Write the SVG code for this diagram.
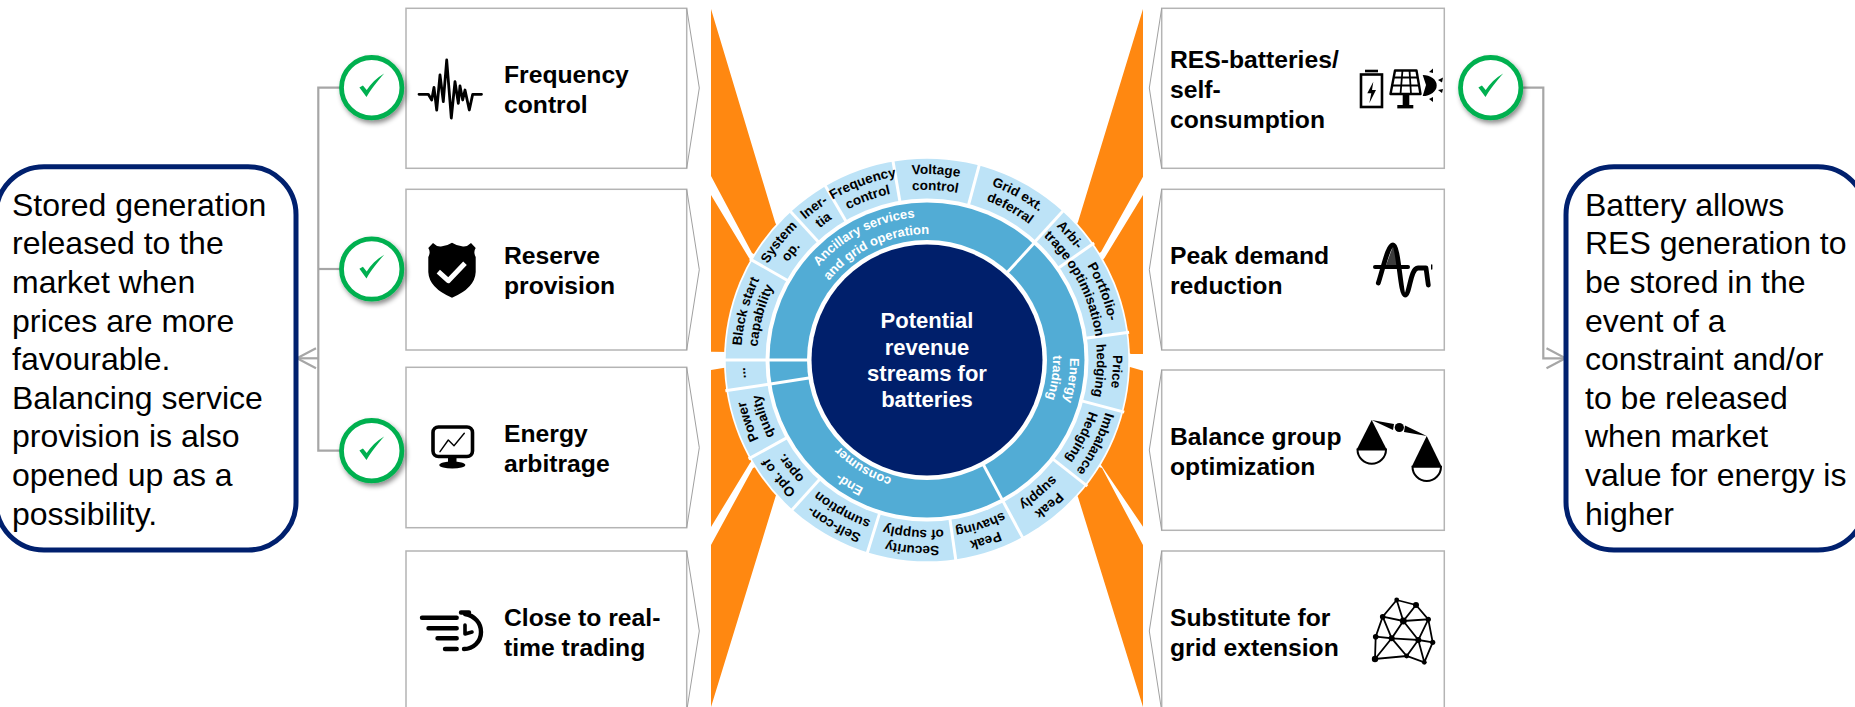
<svg xmlns="http://www.w3.org/2000/svg" width="1855" height="707" viewBox="0 0 1855 707">
<style>
text{font-family:"Liberation Sans",Arial,sans-serif}
.box{fill:#fff;stroke:#b4b4b4;stroke-width:1.5}
.chev{fill:none;stroke:#a0a0a0;stroke-width:1}
.lbl{font-size:24.7px;font-weight:700;fill:#000}
.call{fill:#fff;stroke:#00206e;stroke-width:5}
.ct{font-size:32px;fill:#000}
.conn{fill:none;stroke:#a6a6a6;stroke-width:2.2}
.or{fill:#ff8811}
.seg{font-size:13.5px;font-weight:700;fill:#000;text-anchor:middle}
.mid{font-size:13px;font-weight:700;fill:#fff;text-anchor:middle}
.sp{stroke:#fff;stroke-width:3}
.ck-ring{fill:#fff;stroke:#00b050;stroke-width:4.8}
.ck{fill:#00b050}
.ic{fill:none;stroke:#000;stroke-linecap:round;stroke-linejoin:round}
.center{font-size:22px;font-weight:700;fill:#fff;text-anchor:middle}
</style>
<defs>
<filter id="sh" x="-30%" y="-30%" width="170%" height="170%"><feDropShadow dx="2" dy="3" stdDeviation="2.5" flood-color="#000" flood-opacity="0.45"/></filter>
<marker id="arr" markerUnits="userSpaceOnUse" markerWidth="24" markerHeight="26" refX="20" refY="12" orient="auto"><path d="M1,2 L20,12 L1,22" fill="none" stroke="#a6a6a6" stroke-width="2.2"/></marker>
<path id="r186" d="M741,360 A186,186 0 0 1 1113,360"/>
<path id="r182" d="M745,360 A182,182 0 0 1 1109,360"/>
<path id="r170" d="M757,360 A170,170 0 0 1 1097,360"/>
<path id="r143" d="M784,360 A143,143 0 0 1 1070,360"/>
<path id="r126" d="M801,360 A126,126 0 0 1 1053,360"/>
<path id="r123" d="M804,360 A123,123 0 0 1 1050,360"/>
<g id="check"><circle class="ck-ring" r="30.2" filter="url(#sh)"/><path class="ck" d="M-12.3,-.3 L-8.8,-2.3 L-5,2.4 C-1,-4 5,-10 12.5,-14.2 C6,-7 -1,2 -5.2,9.4 Z"/></g>
</defs>

<g id="rays">
<polygon class="or" points="711,9 775,222 800,280 752,253 711,176"/>
<polygon class="or" points="711,195 749,258 800,320 730,352 711,351.7"/>
<polygon class="or" points="711,370 726,367.5 800,400 750,463 711,527"/>
<polygon class="or" points="711,545 753,468 800,450 775.7,496 711,707"/>
<polygon class="or" points="1143,9 1078,222 1050,280 1101,252 1143,176.7"/>
<polygon class="or" points="1143,195 1104.5,258 1050,320 1131,354 1143,354"/>
<polygon class="or" points="1143,370.7 1130,367 1050,400 1101,465 1143,526.7"/>
<polygon class="or" points="1143,545 1102,468 1050,450 1078,497 1143,707"/>
</g>

<g id="connectors">
<path class="conn" d="M345,87.7 H318.3 V450.7 H345"/>
<path class="conn" d="M345,269 H318.3"/>
<path class="conn" d="M318.3,358.3 H297" marker-end="url(#arr)"/>
<path class="conn" d="M1515,87.7 H1543.3 V358.3 H1565.5" marker-end="url(#arr)"/>
</g>

<g id="callout-left">
<rect class="call" x="-4" y="166.7" width="300" height="383.3" rx="48"/>
<text class="ct" x="12" y="215.5">Stored generation</text>
<text class="ct" x="12" y="254.2">released to the</text>
<text class="ct" x="12" y="293">market when</text>
<text class="ct" x="12" y="331.5">prices are more</text>
<text class="ct" x="12" y="370">favourable.</text>
<text class="ct" x="12" y="408.7">Balancing service</text>
<text class="ct" x="12" y="447.3">provision is also</text>
<text class="ct" x="12" y="486">opened up as a</text>
<text class="ct" x="12" y="524.5">possibility.</text>
</g>
<g id="callout-right">
<rect class="call" x="1566" y="166.7" width="300" height="383.3" rx="48"/>
<text class="ct" x="1585" y="215.5">Battery allows</text>
<text class="ct" x="1585" y="254.2">RES generation to</text>
<text class="ct" x="1585" y="293">be stored in the</text>
<text class="ct" x="1585" y="331.5">event of a</text>
<text class="ct" x="1585" y="370">constraint and/or</text>
<text class="ct" x="1585" y="408.7">to be released</text>
<text class="ct" x="1585" y="447.3">when market</text>
<text class="ct" x="1585" y="486">value for energy is</text>
<text class="ct" x="1585" y="524.5">higher</text>
</g>

<g id="node-frequency-control">
<rect class="box" x="406" y="8.3" width="280.7" height="160"/>
<path class="chev" d="M686.7,8.3 L699.3,88 L686.7,168.3"/>
<polyline class="ic" stroke-width="2.8" points="419,94.3 428.3,94.3 431.7,100 434,87.3 436.7,110 440,75 443.3,101.7 446.7,60 451.3,118 455,81.7 458.3,103.3 460,86 462.7,100 465,90 469.3,110 472.7,94.3 481.5,94.3"/>
<text class="lbl" x="504" y="83">Frequency</text>
<text class="lbl" x="504" y="113">control</text>
</g>
<g id="node-reserve-provision">
<rect class="box" x="406" y="189.3" width="280.7" height="160.7"/>
<path class="chev" d="M686.7,189.3 L699.3,269.7 L686.7,350"/>
<path fill="#000" d="M433,243 Q437,247 441,246.5 Q447,246 452,242.7 Q457,246 463,246.5 Q467,247 471,243 L475.7,248 Q473,252 475.7,257 V272 Q475,288 452,297.7 Q429,288 428.3,272 V257 Q431,252 428.3,248 Z"/>
<polyline fill="none" stroke="#fff" stroke-width="5" stroke-linejoin="round" points="438.3,271.7 448.3,280.7 465,263.3"/>
<text class="lbl" x="504" y="264">Reserve</text>
<text class="lbl" x="504" y="294">provision</text>
</g>
<g id="node-energy-arbitrage">
<rect class="box" x="406" y="367.3" width="280.7" height="160.4"/>
<path class="chev" d="M686.7,367.3 L699.3,447.7 L686.7,527.7"/>
<rect class="ic" stroke-width="3.6" x="433" y="427" width="39.5" height="29.5" rx="5.5"/>
<polyline class="ic" stroke-width="1.4" points="440,451.7 448.3,440 454,445.7 464.3,433.3"/>
<rect x="448" y="457" width="8.5" height="6" fill="#000"/>
<ellipse cx="452.3" cy="465" rx="13" ry="3.6" fill="#000"/>
<text class="lbl" x="504" y="442">Energy</text>
<text class="lbl" x="504" y="472">arbitrage</text>
</g>
<g id="node-close-to-real-time-trading">
<rect class="box" x="406" y="551" width="280.7" height="160"/>
<path class="chev" d="M686.7,551 L699.3,631 L686.7,711"/>
<path class="ic" stroke-width="4.4" d="M422,617.7 H456.7 M428.5,628.3 H456.7 M437.5,638.3 H456.7 M445,649 H456.7"/>
<path class="ic" stroke-width="4.4" d="M461,612.5 H469 M465,614 C475,616 481,623 481,632 C481,642 473,649 464,649"/>
<path class="ic" stroke-width="3.6" d="M465,625 V634 L472,632"/>
<text class="lbl" x="504" y="626">Close to real-</text>
<text class="lbl" x="504" y="656">time trading</text>
</g>

<g id="node-res-batteries">
<rect class="box" x="1161.7" y="8.3" width="282.6" height="160"/>
<path class="chev" d="M1161.7,8.3 L1149.3,88 L1161.7,168.3"/>
<text class="lbl" x="1170" y="68">RES-batteries/</text>
<text class="lbl" x="1170" y="98">self-</text>
<text class="lbl" x="1170" y="128">consumption</text>
<rect fill="none" stroke="#000" stroke-width="2.6" x="1361" y="74.5" width="21" height="32.5"/>
<rect x="1365" y="69.7" width="13" height="2.6" fill="#000"/>
<polygon fill="#000" points="1373.3,81.7 1367.3,93.3 1371.3,93.3 1369.3,103.3 1376,90 1372,90"/>
<polygon fill="#fff" stroke="#000" stroke-width="2.4" stroke-linejoin="round" points="1395,70.5 1416.5,70.5 1420.5,94 1390.5,94"/>
<path d="M1402.5,70 L1400.5,94 M1409.5,70 L1411,94 M1393.5,77.5 H1418 M1392,85.5 H1419.5" stroke="#000" stroke-width="1.8" fill="none"/>
<rect x="1402.7" y="95" width="6.6" height="10" fill="#000"/>
<rect x="1397.3" y="105" width="16" height="3.4" fill="#000"/>
<path fill="#000" d="M1422.7,75 A14,10.5 0 0 1 1422.7,96 L1426,85 Z"/>
<path fill="#000" d="M1429,72 L1433,68.5 L1433,73 Z M1438,80 L1443,77.5 L1442,82.5 Z M1438,90 L1443,89 L1442,93 Z M1429,99 L1433,97 L1433,102 Z"/>
</g>
<g id="node-peak-demand-reduction">
<rect class="box" x="1161.7" y="189.3" width="282.6" height="160.7"/>
<path class="chev" d="M1161.7,189.3 L1149.3,269.7 L1161.7,350"/>
<text class="lbl" x="1170" y="264">Peak demand</text>
<text class="lbl" x="1170" y="294">reduction</text>
<polygon fill="#3c3c3c" points="1385,268 1393,246 1401,268"/>
<path class="ic" stroke-width="4.8" d="M1378.3,283 C1384,265 1388,245 1393,245 C1399,245 1400,295 1405,295 C1410,295 1410,268 1418,268 H1426 L1428.3,285"/>
<path class="ic" stroke-width="4" stroke-linecap="butt" d="M1375,267 H1408"/>
<path class="ic" stroke-width="1.4" d="M1431.7,265 V269"/>
</g>
<g id="node-balance-group-optimization">
<rect class="box" x="1161.7" y="370" width="282.6" height="160.3"/>
<path class="chev" d="M1161.7,370 L1149.3,450 L1161.7,530.3"/>
<text class="lbl" x="1170" y="445">Balance group</text>
<text class="lbl" x="1170" y="475">optimization</text>
<polygon fill="#000" points="1371.7,420 1356.7,449.5 1386.7,449.5"/>
<path d="M1357.5,449.5 A14.2,14.2 0 0 0 1386,449.5 Z" fill="#fff" stroke="#000" stroke-width="2"/>
<polygon fill="#000" points="1426.7,436 1411.7,466.7 1441.7,466.7"/>
<path d="M1412.5,466.7 A14.2,14.2 0 0 0 1441,466.7 Z" fill="#fff" stroke="#000" stroke-width="2"/>
<polygon fill="#000" points="1371.7,420 1394,424 1393,430"/>
<polygon fill="#000" points="1405,425.5 1426.7,436 1404,432"/>
<circle cx="1399.3" cy="427.5" r="4.6" fill="#000"/>
</g>
<g id="node-substitute-for-grid-extension">
<rect class="box" x="1161.7" y="551" width="282.6" height="160"/>
<path class="chev" d="M1161.7,551 L1149.3,631 L1161.7,711"/>
<text class="lbl" x="1170" y="626">Substitute for</text>
<text class="lbl" x="1170" y="656">grid extension</text>
<path fill="none" stroke="#000" stroke-width="1.8" d="M1396.7,600 L1416,605 L1428.3,619.3 L1432.7,642.3 L1424.3,662.3 L1406.7,656 L1375,659 L1375.7,636.7 L1382.7,616.7 L1396.7,600 L1403.3,621 L1416,605 M1382.7,616.7 L1403.3,621 L1428.3,619.3 L1418.3,640 L1432.7,642.3 M1403.3,621 L1391.7,638.3 L1382.7,616.7 M1375.7,636.7 L1391.7,638.3 L1375,659 M1391.7,638.3 L1406.7,656 L1418.3,640 L1424.3,662.3 M1391.7,638.3 L1418.3,640 L1403.3,621"/>
<g fill="#000"><circle cx="1396.7" cy="600" r="2.4"/><circle cx="1416" cy="605" r="3"/><circle cx="1428.3" cy="619.3" r="2.6"/><circle cx="1432.7" cy="642.3" r="2.6"/><circle cx="1424.3" cy="662.3" r="2.4"/><circle cx="1406.7" cy="656" r="2.4"/><circle cx="1375" cy="659" r="3.2"/><circle cx="1375.7" cy="636.7" r="2.8"/><circle cx="1382.7" cy="616.7" r="2.8"/><circle cx="1403.3" cy="621" r="3.4"/><circle cx="1391.7" cy="638.3" r="3"/><circle cx="1418.3" cy="640" r="3"/></g>
</g>

<g id="badges">
<use id="badge-frequency" href="#check" x="371.7" y="87.7"/>
<use id="badge-reserve" href="#check" x="371.7" y="269"/>
<use id="badge-arbitrage" href="#check" x="371.7" y="450.7"/>
<use id="badge-res" href="#check" x="1490.7" y="87.7"/>
</g>

<g id="wheel">
<circle cx="927" cy="360" r="203" fill="#fff"/>
<circle cx="927" cy="360" r="201.3" fill="#bde3f7"/>
<circle cx="927" cy="360" r="161.5" fill="#fff"/>
<circle cx="927" cy="360" r="157.5" fill="#52acd5"/>
<circle cx="927" cy="360" r="120" fill="#fff"/>
<circle cx="927" cy="360" r="115.5" fill="#001f6b"/>
<g id="outer-dividers" class="sp">
<line x1="927" y1="200" x2="927" y2="156" transform="rotate(-9.7 927 360)"/>
<line x1="927" y1="200" x2="927" y2="156" transform="rotate(15 927 360)"/>
<line x1="927" y1="200" x2="927" y2="156" transform="rotate(42.4 927 360)"/>
<line x1="927" y1="200" x2="927" y2="156" transform="rotate(55 927 360)"/>
<line x1="927" y1="200" x2="927" y2="156" transform="rotate(82.2 927 360)"/>
<line x1="927" y1="200" x2="927" y2="156" transform="rotate(104.8 927 360)"/>
<line x1="927" y1="200" x2="927" y2="156" transform="rotate(128.2 927 360)"/>
<line x1="927" y1="200" x2="927" y2="156" transform="rotate(151.7 927 360)"/>
<line x1="927" y1="200" x2="927" y2="156" transform="rotate(171.8 927 360)"/>
<line x1="927" y1="200" x2="927" y2="156" transform="rotate(197.2 927 360)"/>
<line x1="927" y1="200" x2="927" y2="156" transform="rotate(222 927 360)"/>
<line x1="927" y1="200" x2="927" y2="156" transform="rotate(241 927 360)"/>
<line x1="927" y1="200" x2="927" y2="156" transform="rotate(261.3 927 360)"/>
<line x1="927" y1="200" x2="927" y2="156" transform="rotate(270 927 360)"/>
<line x1="927" y1="200" x2="927" y2="156" transform="rotate(299.7 927 360)"/>
<line x1="927" y1="200" x2="927" y2="156" transform="rotate(317.4 927 360)"/>
<line x1="927" y1="200" x2="927" y2="156" transform="rotate(329.7 927 360)"/>
</g>
<g id="mid-dividers" class="sp">
<line x1="927" y1="242" x2="927" y2="200" transform="rotate(42.5 927 360)"/>
<line x1="927" y1="242" x2="927" y2="200" transform="rotate(151.7 927 360)"/>
<line x1="927" y1="242" x2="927" y2="200" transform="rotate(261.3 927 360)"/>
<line x1="927" y1="242" x2="927" y2="200" transform="rotate(270 927 360)"/>
</g>
<g id="seg-voltage"><text class="seg" transform="rotate(2.75 927 360)"><textPath href="#r186" startOffset="50%">Voltage</textPath></text><text class="seg" transform="rotate(2.75 927 360)"><textPath href="#r170" startOffset="50%">control</textPath></text></g>
<g id="seg-grid"><text class="seg" transform="rotate(28.7 927 360)"><textPath href="#r186" startOffset="50%">Grid ext.</textPath></text><text class="seg" transform="rotate(28.7 927 360)"><textPath href="#r170" startOffset="50%">deferral</textPath></text></g>
<g id="seg-arbitrage"><text class="seg" transform="rotate(48.8 927 360)"><textPath href="#r186" startOffset="50%">Arbi-</textPath></text><text class="seg" transform="rotate(48.8 927 360)"><textPath href="#r170" startOffset="50%">trage</textPath></text></g>
<g id="seg-portfolio"><text class="seg" transform="rotate(68.7 927 360)"><textPath href="#r186" startOffset="50%">Portfolio-</textPath></text><text class="seg" transform="rotate(68.7 927 360)"><textPath href="#r170" startOffset="50%">optimisation</textPath></text></g>
<g id="seg-price"><text class="seg" transform="rotate(93.5 927 360)"><textPath href="#r186" startOffset="50%">Price</textPath></text><text class="seg" transform="rotate(93.5 927 360)"><textPath href="#r170" startOffset="50%">hedging</textPath></text></g>
<g id="seg-imbalance"><text class="seg" transform="rotate(116.5 927 360)"><textPath href="#r186" startOffset="50%">Imbalance</textPath></text><text class="seg" transform="rotate(116.5 927 360)"><textPath href="#r170" startOffset="50%">Hedging</textPath></text></g>
<g id="seg-peak-supply"><text class="seg" transform="rotate(140 927 360)"><textPath href="#r186" startOffset="50%">Peak</textPath></text><text class="seg" transform="rotate(140 927 360)"><textPath href="#r170" startOffset="50%">supply</textPath></text></g>
<g id="seg-peak-shaving"><text class="seg" transform="rotate(162 927 360)"><textPath href="#r186" startOffset="50%">Peak</textPath></text><text class="seg" transform="rotate(162 927 360)"><textPath href="#r170" startOffset="50%">shaving</textPath></text></g>
<g id="seg-security"><text class="seg" transform="rotate(184.5 927 360)"><textPath href="#r186" startOffset="50%">Security</textPath></text><text class="seg" transform="rotate(184.5 927 360)"><textPath href="#r170" startOffset="50%">of supply</textPath></text></g>
<g id="seg-self"><text class="seg" transform="rotate(209.5 927 360)"><textPath href="#r186" startOffset="50%">Self-con-</textPath></text><text class="seg" transform="rotate(209.5 927 360)"><textPath href="#r170" startOffset="50%">sumption</textPath></text></g>
<g id="seg-opt"><text class="seg" transform="rotate(231.5 927 360)"><textPath href="#r186" startOffset="50%">Opt. of</textPath></text><text class="seg" transform="rotate(231.5 927 360)"><textPath href="#r170" startOffset="50%">oper.</textPath></text></g>
<g id="seg-power"><text class="seg" transform="rotate(251 927 360)"><textPath href="#r186" startOffset="50%">Power</textPath></text><text class="seg" transform="rotate(251 927 360)"><textPath href="#r170" startOffset="50%">quality</textPath></text></g>
<g id="seg-dots"><text class="seg" transform="rotate(266 927 360)"><textPath href="#r182" startOffset="50%">...</textPath></text></g>
<g id="seg-black"><text class="seg" transform="rotate(285 927 360)"><textPath href="#r186" startOffset="50%">Black start</textPath></text><text class="seg" transform="rotate(285 927 360)"><textPath href="#r170" startOffset="50%">capability</textPath></text></g>
<g id="seg-system"><text class="seg" transform="rotate(308.5 927 360)"><textPath href="#r186" startOffset="50%">System</textPath></text><text class="seg" transform="rotate(308.5 927 360)"><textPath href="#r170" startOffset="50%">op.</textPath></text></g>
<g id="seg-inertia"><text class="seg" transform="rotate(323.5 927 360)"><textPath href="#r186" startOffset="50%">Iner-</textPath></text><text class="seg" transform="rotate(323.5 927 360)"><textPath href="#r170" startOffset="50%">tia</textPath></text></g>
<g id="seg-frequency"><text class="seg" transform="rotate(340 927 360)"><textPath href="#r186" startOffset="50%">Frequency</textPath></text><text class="seg" transform="rotate(340 927 360)"><textPath href="#r170" startOffset="50%">control</textPath></text></g>
<g id="mid-ancillary"><text class="mid" transform="rotate(-27 927 360)"><textPath href="#r143" startOffset="50%">Ancillary services</textPath></text><text class="mid" transform="rotate(-25 927 360)"><textPath href="#r126" startOffset="50%">and grid operation</textPath></text></g>
<g id="mid-energy"><text class="mid" transform="rotate(98 927 360)"><textPath href="#r143" startOffset="50%">Energy</textPath></text><text class="mid" transform="rotate(98 927 360)"><textPath href="#r126" startOffset="50%">trading</textPath></text></g>
<g id="mid-end"><text class="mid" transform="rotate(212 927 360)"><textPath href="#r143" startOffset="50%">End-</textPath></text><text class="mid" transform="rotate(211 927 360)"><textPath href="#r123" startOffset="50%">consumer</textPath></text></g>
<g id="center-label">
<text class="center" x="927" y="327.8">Potential</text>
<text class="center" x="927" y="354.5">revenue</text>
<text class="center" x="927" y="380.8">streams for</text>
<text class="center" x="927" y="407">batteries</text>
</g>
</g>
</svg>
